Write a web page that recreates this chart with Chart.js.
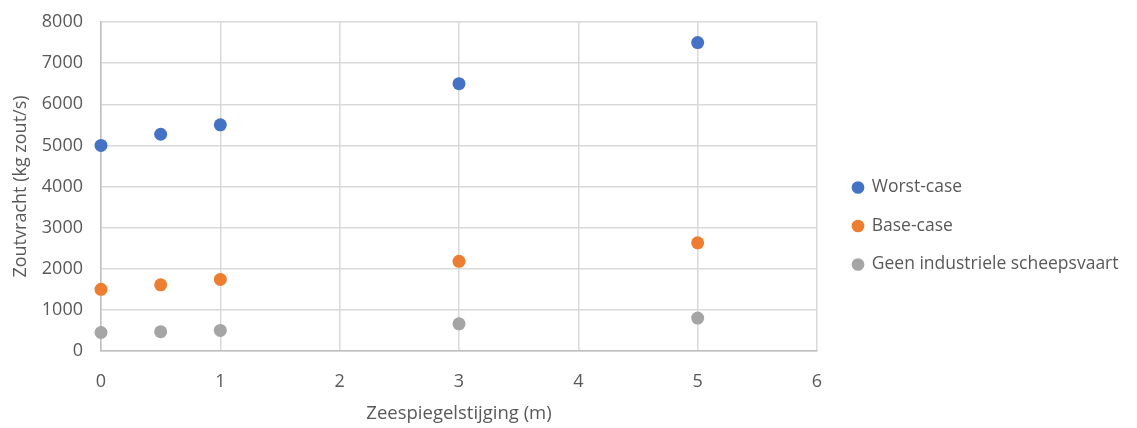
<!DOCTYPE html>
<html>
<head>
<meta charset="utf-8">
<script src="https://cdn.jsdelivr.net/npm/chart.js@4"></script>
<style>
    body { margin: 0; background: #fff; }
    #wrap { width: 1137px; height: 428px; }
</style>
</head>
<body>
<div id="wrap"><canvas id="chart" width="1137" height="428"></canvas></div>
<script>
// sea level rise (m)
const xValues = [0, 0.5, 1, 3, 5];
const worstCase = [5000, 5270, 5500, 6500, 7500];
const baseCase = [1500, 1610, 1740, 2180, 2630];
const noShipping = [450, 470, 500, 660, 800];
const seriesNames = ["Worst-case", "Base-case", "Geen industriele scheepsvaart"];
const seriesColors = ["#4472c4", "#ed7d31", "#a5a5a5"];

const textColor = "#595959";
const gridColor = "#d9d9d9";
const fontFamily = "'Open Sans', 'Noto Sans', sans-serif";

function toPoints(ys) {
    return xValues.map((x, i) => ({ x: x, y: ys[i] }));
}

const datasets = [worstCase, baseCase, noShipping].map((ys, i) => ({
    label: seriesNames[i],
    data: toPoints(ys),
    backgroundColor: seriesColors[i],
    borderColor: seriesColors[i],
    pointRadius: 6.5,
    pointHoverRadius: 6.5,
    borderWidth: 0,
    clip: false
}));

// legend sits further right than Chart.js would put it, so widen its box
// (keeps the plot area narrower) and move where it draws
const legendPad = 21;
const legendPlace = {
    id: "legendPlace",
    beforeUpdate(chart) {
        const lg = chart.legend;
        if (lg && !lg._wrapped) {
            const fit = lg.fit.bind(lg);
            lg.fit = function () {
                fit();
                this.width = 320;
            };
            lg._wrapped = true;
        }
    },
    afterLayout(chart) {
        const lg = chart.legend;
        lg.left = 853 - legendPad;
        lg.top += 1;
        lg.bottom += 1;
    }
};

new Chart(document.getElementById("chart"), {
    type: "scatter",
    data: { datasets },
    plugins: [legendPlace],
    options: {
        responsive: false,
        animation: false,
        layout: { padding: { top: 22, right: 0, bottom: 0, left: 0 } },
        plugins: {
            tooltip: { enabled: false },
            legend: {
                position: "right",
                align: "center",
                labels: {
                    usePointStyle: true,
                    pointStyle: "circle",
                    boxHeight: 9,
                    boxWidth: 10,
                    padding: legendPad,
                    color: textColor,
                    font: { family: fontFamily, size: 17.5 }
                }
            }
        },
        scales: {
            x: {
                type: "linear",
                min: 0,
                max: 6,
                ticks: {
                    stepSize: 1,
                    padding: 20,
                    color: textColor,
                    font: { family: fontFamily, size: 18 }
                },
                grid: { color: gridColor, lineWidth: 1.5, drawTicks: false },
                border: { color: "#bfbfbf", width: 1.5 },
                title: {
                    display: true,
                    text: "Zeespiegelstijging (m)",
                    color: textColor,
                    font: { family: fontFamily, size: 18.5 },
                    padding: { top: 3, bottom: 3 }
                },
                afterFit: (s) => { s.height = 77; }
            },
            y: {
                min: 0,
                max: 8000,
                ticks: {
                    stepSize: 1000,
                    padding: 18,
                    color: textColor,
                    font: { family: fontFamily, size: 18 },
                    callback: (v) => String(v)
                },
                grid: { color: gridColor, lineWidth: 1.5, drawTicks: false },
                border: { color: "#bfbfbf", width: 1.5 },
                title: {
                    display: true,
                    text: "Zoutvracht (kg zout/s)",
                    color: textColor,
                    font: { family: fontFamily, size: 18 },
                    padding: { top: 10, bottom: 0 }
                },
                afterFit: (s) => {
                    s.width = 101;
                    s.paddingTop = 0;
                    s.paddingBottom = 0;
                }
            }
        }
    }
});
</script>
</body>
</html>
